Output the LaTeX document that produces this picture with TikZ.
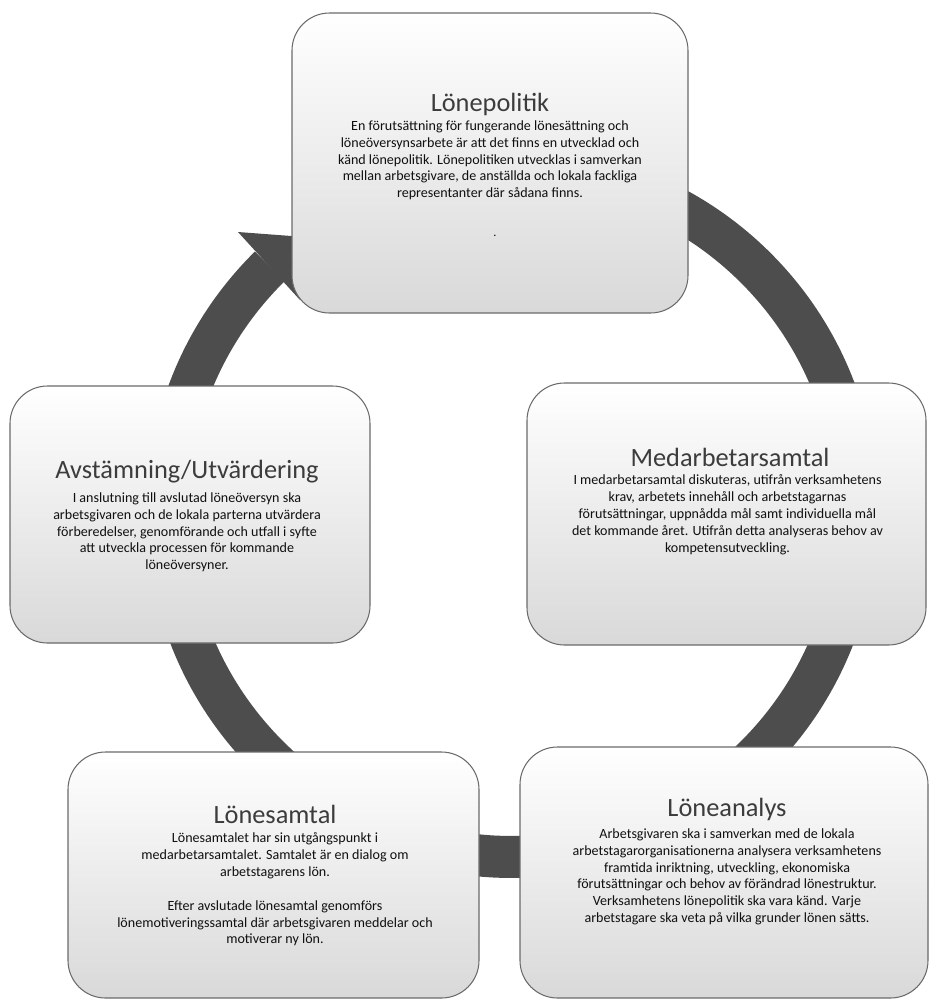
\documentclass[tikz,border=0pt]{standalone}
\usepackage{fontspec}
\setmainfont{Carlito}
\usetikzlibrary{calc}

\definecolor{ringgra}{HTML}{4D4D4D}
\definecolor{kantgra}{HTML}{6A6A6A}
\definecolor{rubrikgra}{HTML}{3C3C3C}
\definecolor{textgra}{HTML}{101010}

\tikzset{
  fas/.style={draw=kantgra, line width=0.6pt, rounded corners=0.75cm,
              top color=white, middle color=black!4, bottom color=black!15, inner sep=0pt},
  rubrik/.style={text=rubrikgra, font=\fontsize{15}{18}\selectfont, inner sep=0pt},
  brodtext/.style={text=textgra, font=\fontsize{8}{9.64}\selectfont,
                   align=center, anchor=north, inner sep=0pt},
  ring/.style={draw=ringgra, line width=0.84cm}
}

\begin{document}
\begin{tikzpicture}
    \useasboundingbox (0,0) rectangle (18.6,-20.02);
    % ring with arrow head, behind the boxes
    \coordinate (mitt) at (10.24,-10.24);
    \draw[ring] ($(mitt)+(134.6:6.9)$) arc[start angle=134.6, end angle=480, radius=6.9];
    \fill[ringgra] (4.76,-4.64) -- (6.36,-4.76) -- (6.0,-6.0) -- cycle;

    % Lönepolitik
    \node[fas, minimum width=7.92cm, minimum height=6cm] (politik) at (9.8,-3.26) {};
    \node[rubrik] (politikrubrik) at (9.8,-2.08) {Lönepolitik};
    \node[brodtext] (politiktext) at (9.8,-2.4)
        {En förutsättning för fungerande lönesättning och\\
         löneöversynsarbete är att det finns en utvecklad och\\
         känd lönepolitik. Lönepolitiken utvecklas i samverkan\\
         mellan arbetsgivare, de anställda och lokala fackliga\\
         representanter där sådana finns.};
    \node[text=textgra, font=\scriptsize, inner sep=0pt] (politikpunkt) at (9.9,-4.72) {.};

    % Medarbetarsamtal
    \node[fas, minimum width=7.98cm, minimum height=5.24cm] (samtal) at (14.53,-10.28) {};
    \node[rubrik] (samtalrubrik) at (14.6,-9.14) {Medarbetarsamtal};
    \node[brodtext] (samtaltext) at (14.55,-9.48)
        {I medarbetarsamtal diskuteras, utifrån verksamhetens\\
         krav, arbetets innehåll och arbetstagarnas\\
         förutsättningar, uppnådda mål samt individuella mål\\
         det kommande året. Utifrån detta analyseras behov av\\
         kompetensutveckling.};

    % Löneanalys
    \node[fas, minimum width=8.16cm, minimum height=5.02cm] (analys) at (14.48,-17.45) {};
    \node[rubrik] (analysrubrik) at (14.54,-16.18) {Löneanalys};
    \node[brodtext] (analystext) at (14.54,-16.56)
        {Arbetsgivaren ska i samverkan med de lokala\\
         arbetstagarorganisationerna analysera verksamhetens\\
         framtida inriktning, utveckling, ekonomiska\\
         förutsättningar och behov av förändrad lönestruktur.\\
         Verksamhetens lönepolitik ska vara känd. Varje\\
         arbetstagare ska veta på vilka grunder lönen sätts.};

    % Lönesamtal
    \node[fas, minimum width=8.22cm, minimum height=4.92cm] (lonesamtal) at (5.47,-17.5) {};
    \node[rubrik] (lonesamtalrubrik) at (5.5,-16.28) {Lönesamtal};
    \node[brodtext] (lonesamtaltext) at (5.5,-16.64)
        {Lönesamtalet har sin utgångspunkt i\\
         medarbetarsamtalet. Samtalet är en dialog om\\
         arbetstagarens lön.\\[9.64pt]
         Efter avslutade lönesamtal genomförs\\
         lönemotiveringssamtal där arbetsgivaren meddelar och\\
         motiverar ny lön.};

    % Avstämning/Utvärdering
    \node[fas, minimum width=7.2cm, minimum height=5.14cm] (avstamning) at (3.8,-10.29) {};
    \node[rubrik] (avstamningrubrik) at (3.74,-9.44) {Avstämning/Utvärdering};
    \node[brodtext] (avstamningtext) at (3.74,-9.84)
        {I anslutning till avslutad löneöversyn ska\\
         arbetsgivaren och de lokala parterna utvärdera\\
         förberedelser, genomförande och utfall i syfte\\
         att utveckla processen för kommande\\
         löneöversyner.};
\end{tikzpicture}
\end{document}
